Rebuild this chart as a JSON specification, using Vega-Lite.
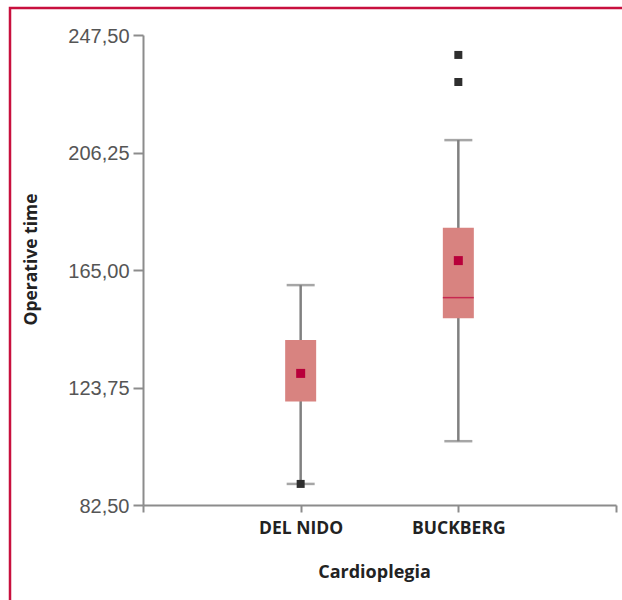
{
  "$schema": "https://vega.github.io/schema/vega-lite/v6.json",
  "width": 612,
  "height": 592,
  "autosize": {"type": "none"},
  "padding": {"left": 10, "top": 8, "right": 0, "bottom": 0},
  "background": "white",
  "config": {
    "view": {"stroke": "#c8103e", "strokeWidth": 2.5, "strokeDash": [612, 1204, 592]},
    "axis": {"grid": false}
  },
  "datasets": {
    "boxes": [
      {"group": "DEL NIDO", "lower": 89.9, "q1": 118.8, "median": null, "q3": 140.4, "upper": 159.7, "mean": 128.7},
      {"group": "BUCKBERG", "lower": 104.9, "q1": 148.1, "median": 155.3, "q3": 179.8, "upper": 210.6, "mean": 168.3}
    ],
    "outliers": [
      {"group": "DEL NIDO", "value": 89.9},
      {"group": "BUCKBERG", "value": 231.0},
      {"group": "BUCKBERG", "value": 240.5}
    ]
  },
  "encoding": {
    "x": {
      "field": "group",
      "type": "nominal",
      "scale": {"type": "point", "domain": ["START", "DEL NIDO", "BUCKBERG", "END"], "range": [133, 606], "padding": 0},
      "axis": {
        "offset": -95,
        "domainColor": "#8c8c8c",
        "domainWidth": 2,
        "tickColor": "#8c8c8c",
        "tickWidth": 2,
        "tickSize": 7,
        "labelPadding": 21,
        "labelBaseline": "alphabetic",
        "labelFont": "Open Sans",
        "labelFontSize": 17.5,
        "labelFontWeight": "bold",
        "labelColor": "#222222",
        "labelAngle": 0,
        "labelOverlap": false,
        "labelExpr": "datum.value == 'START' || datum.value == 'END' ? '' : datum.value",
        "title": "Cardioplegia",
        "titleFont": "Open Sans",
        "titleFontSize": 18,
        "titleFontWeight": "bold",
        "titleColor": "#222222",
        "titleX": 364,
        "titleY": 72.7,
        "titleBaseline": "alphabetic",
        "titleAlign": "center"
      }
    }
  },
  "layer": [
    {
      "data": {"name": "boxes"},
      "mark": {"type": "rule", "color": "#808080", "strokeWidth": 2.5},
      "encoding": {
        "y": {
          "field": "lower",
          "type": "quantitative",
          "title": "Operative time",
          "scale": {"domain": [82.5, 247.5], "range": [497, 27], "nice": false, "zero": false},
          "axis": {
            "values": [82.5, 123.75, 165, 206.25, 247.5],
            "offset": -133,
            "domainColor": "#8c8c8c",
            "domainWidth": 2,
            "tickColor": "#8c8c8c",
            "tickWidth": 2,
            "tickSize": 10,
            "labelPadding": 4,
            "labelFont": "Liberation Sans",
            "labelFontSize": 20,
            "labelColor": "#555555",
            "labelBaseline": "middle",
            "labelOffset": 1,
            "labelOverlap": false,
            "labelExpr": "replace(format(datum.value, '.2f'), '.', ',')",
            "titleFont": "Open Sans",
            "titleFontSize": 17.5,
            "titleFontWeight": "bold",
            "titleColor": "#222222",
            "titleAngle": -90,
            "titleX": -107,
            "titleY": 251,
            "titleBaseline": "alphabetic",
            "titleAlign": "center"
          }
        },
        "y2": {"field": "upper"}
      }
    },
    {
      "data": {"name": "boxes"},
      "mark": {"type": "tick", "orient": "horizontal", "size": 28, "thickness": 2.5, "color": "#808080"},
      "encoding": {"y": {"field": "lower", "type": "quantitative", "title": "Operative time"}}
    },
    {
      "data": {"name": "boxes"},
      "mark": {"type": "tick", "orient": "horizontal", "size": 28, "thickness": 2.5, "color": "#808080"},
      "encoding": {"y": {"field": "upper", "type": "quantitative", "title": "Operative time"}}
    },
    {
      "data": {"name": "boxes"},
      "mark": {"type": "bar", "width": 31, "color": "#d88380"},
      "encoding": {
        "y": {"field": "q1", "type": "quantitative", "title": "Operative time"},
        "y2": {"field": "q3"}
      }
    },
    {
      "data": {"name": "boxes"},
      "transform": [{"filter": "datum.median != null"}],
      "mark": {"type": "tick", "orient": "horizontal", "size": 31, "thickness": 1.5, "color": "#c0003c"},
      "encoding": {"y": {"field": "median", "type": "quantitative", "title": "Operative time"}}
    },
    {
      "data": {"name": "boxes"},
      "mark": {"type": "point", "shape": "square", "filled": true, "size": 81, "color": "#b8003a", "opacity": 1},
      "encoding": {"y": {"field": "mean", "type": "quantitative", "title": "Operative time"}}
    },
    {
      "data": {"name": "outliers"},
      "mark": {"type": "point", "shape": "square", "filled": true, "size": 64, "color": "#2e2e2e", "opacity": 1},
      "encoding": {"y": {"field": "value", "type": "quantitative", "title": "Operative time"}}
    }
  ]
}
